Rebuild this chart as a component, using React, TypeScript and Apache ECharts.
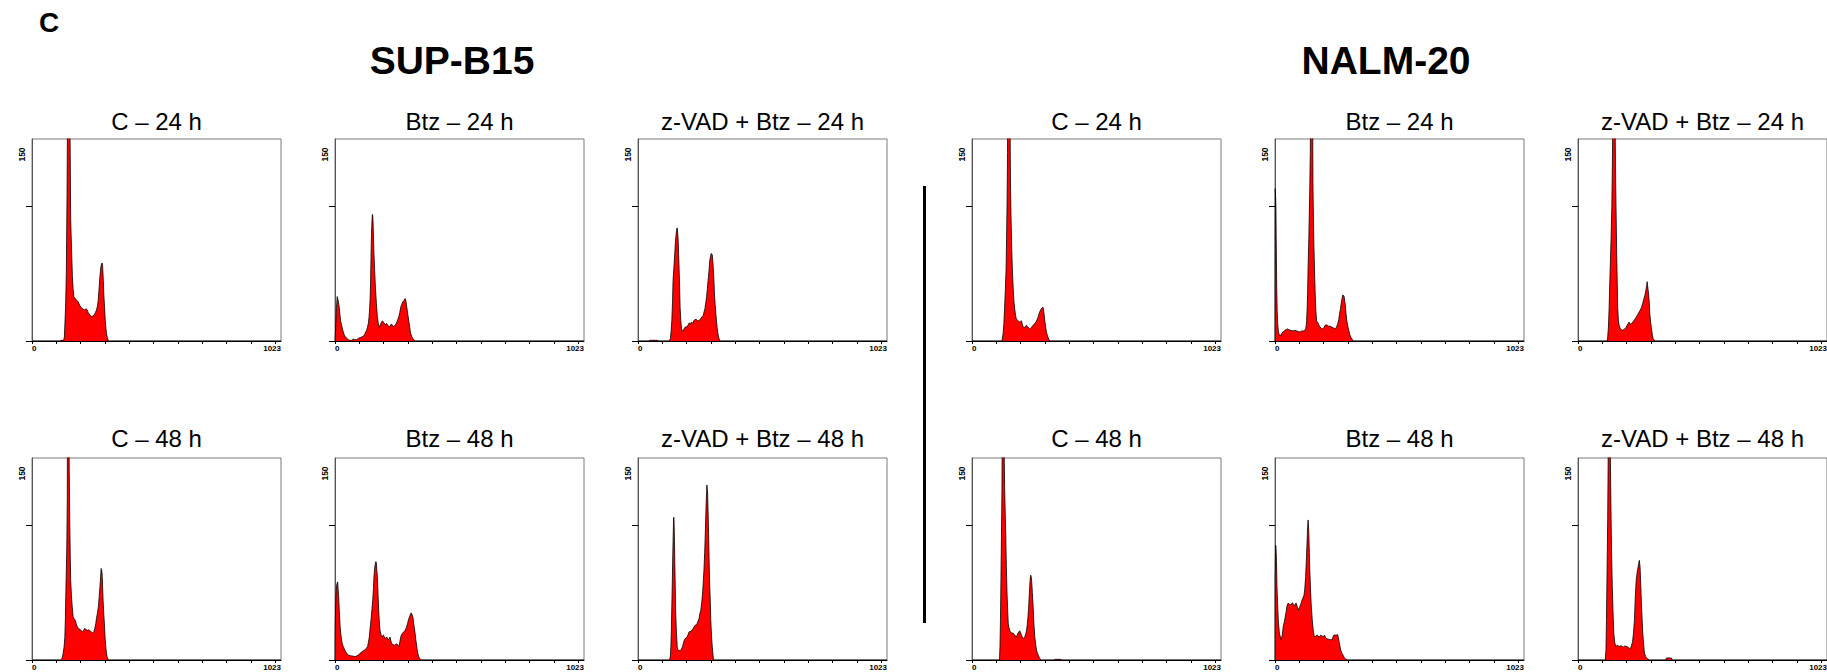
import { useEffect, useRef } from "react";
import * as echarts from "echarts";

// ---------- texts ----------
const panelLetter = "C";
const groupTitles = ["SUP-B15", "NALM-20"];
const panelTitles = [
  "C – 24 h", "Btz – 24 h", "z-VAD + Btz – 24 h",
  "C – 24 h", "Btz – 24 h", "z-VAD + Btz – 24 h",
  "C – 48 h", "Btz – 48 h", "z-VAD + Btz – 48 h",
  "C – 48 h", "Btz – 48 h", "z-VAD + Btz – 48 h",
];
const yMaxLabel = "150";
const X_MAX = 1023;
const Y_MAX = 150;
const xTickValues = [0, 100, 200, 300, 400, 500, 600, 700, 800, 900, 1000];
const xLabelValues = [0, 1023];
const yTickValues = [0, 100];

// ---------- histogram data: [channel, count] ----------
const supC24: number[][] = [[0,0],[115,0],[118,0.5],[130,0.5],[133,3],[138,25],[141,50],[144,110],[147,200],[153,210],[157,140],[159,90],[163,65],[166,48],[169,38],[172,33],[176,32],[180,31],[185,30],[190,29],[196,26.5],[202,25],[207,24],[212,23.5],[217,23],[222,24],[227,23],[231,21],[235,20],[240,19],[244,18],[249,18.5],[254,19],[260,21],[265,23],[269,26],[272,30],[276,40],[279,48],[283,55],[286,57.5],[288,58],[290,56],[293,45],[295,35],[298,25],[301,15],[304,9],[306,5.5],[310,2],[314,0],[1023,0]];
const supBtz24: number[][] = [[0,0],[2,8],[3,12],[6,25],[9,33],[11,33],[13,30],[16,27],[20,20],[23,15],[28,11],[32,8],[37,5],[41,3.5],[48,2],[55,1],[62,0.5],[69,0.5],[75,1.5],[82,1],[89,1],[96,2],[103,2.5],[110,3],[117,3.5],[122,5],[126,6.7],[130,8],[133,10],[137,13],[140,18],[142,23],[144,30],[146,42],[147,53],[148,62],[149,72],[151,85],[153,93],[154,94],[155,93],[156,90],[158,78],[160,65],[163,52],[166,40],[170,28],[174,18],[178,13],[182,10],[186,12],[191,14],[195,15],[199,14],[203,13],[207,12],[211,13],[215,12.4],[219,11],[224,10.4],[228,12],[233,12.4],[238,11],[243,10.9],[248,12],[254,14],[258,16],[262,18],[266,21],[270,25],[274,27],[278,29],[283,30],[288,31.5],[291,30],[295,25],[299,20],[303,15],[307,10],[311,5.5],[316,3],[320,1.7],[325,0.8],[329,0],[1023,0]];
const supZvad24: number[][] = [[0,0],[45,0],[48,0.5],[82,0.5],[85,0],[128,0],[133,1.7],[136,7],[139,15],[142,30],[144,45],[148,56],[151,65],[154,74],[157,80],[159,83],[161,84],[163,80],[165,75],[167,64],[169,53],[171,40],[173,25],[176,15],[179,9],[182,7.5],[185,7.5],[189,9],[192,10],[197,10.5],[202,10.4],[206,12],[210,13.4],[215,13],[220,14],[225,13],[229,15],[234,16],[240,16],[245,15],[250,15],[254,16],[258,16.6],[263,18],[268,19],[272,22],[275,24],[279,29],[282,33],[285,39],[288,45],[292,53],[295,60],[298,63],[301,65],[303,65],[305,64],[307,60],[309,55],[312,45],[314,35],[317,27],[320,20],[323,14],[325,10],[328,6],[331,3],[336,0],[1023,0]];
const nalmC24: number[][] = [[0,0],[123,0],[128,5.5],[131,13],[134,25],[137,38],[140,53],[142,75],[144,102],[146,140],[147,200],[155,200],[158,120],[160,95],[163,70],[166,52],[169,40],[172,30],[176,23],[179,19],[182,16.6],[186,15.5],[189,15],[193,14.5],[196,14],[199,14.5],[203,15],[206,13],[210,10.4],[214,10],[217,10],[220,11],[224,11.7],[227,10.5],[230,10.4],[234,9.5],[237,9],[241,9.5],[244,10],[248,11],[251,11.7],[255,12.5],[258,13],[262,14],[265,15],[269,16.5],[272,18],[275,20],[278,21.6],[282,23],[285,24],[288,24.5],[292,25],[294,23],[296,20],[299,15],[303,10],[306,6.5],[310,4],[315,1.5],[320,0],[1023,0]];
const nalmBtz24: number[][] = [[0,0],[0.5,80],[1,113],[3,105],[4,97],[5,75],[7,40],[9,22],[11,13],[14,7],[18,4],[21,4.5],[25,4],[28,5.5],[32,6.7],[36,7],[41,8],[46,8.5],[51,9],[56,8.5],[62,8],[68,7.8],[75,7.5],[82,8],[89,7.5],[96,7],[103,6.7],[110,7.5],[117,7.5],[122,8],[126,9],[128,11],[130,15],[132,24],[134,35],[136,55],[139,77],[141,95],[143,115],[145,140],[147,200],[154,200],[156,115],[158,90],[160,70],[163,48],[166,30],[168,22],[171,15],[174,14],[178,13],[181,11.5],[185,10.4],[190,9.5],[196,9],[201,10],[206,11.7],[210,12],[215,11.7],[220,11],[226,11],[231,10.5],[237,10],[242,9.5],[248,9],[253,10.5],[258,13],[262,16],[265,20],[269,24],[272,28],[275,31],[278,34],[281,34],[284,33],[287,29],[289,26.5],[292,20],[295,15],[299,11],[303,8],[307,5],[311,3],[316,1.5],[322,0],[1023,0]];
const nalmZvad24: number[][] = [[0,0],[121,0],[125,10.4],[128,25],[130,40],[133,58],[136,77],[139,100],[141,127],[143,160],[146,200],[151,200],[153,150],[155,115],[157,90],[159,65],[161,45],[163,25],[166,15],[169,11.7],[172,10],[174,9],[178,8.5],[183,8],[187,8.5],[192,9],[197,10],[202,11.7],[206,13],[210,14],[215,12.4],[220,13],[225,14],[229,15],[235,16.5],[240,18],[245,19.5],[251,21.6],[256,23],[261,25],[266,28],[271,31.5],[275,34],[279,37.7],[282,41],[284,44],[286,41],[288,38],[290,35],[293,28],[295,20],[299,13],[302,9],[306,4],[309,1.7],[316,0],[1023,0]];
const supC48: number[][] = [[0,0],[118,0],[121,0.5],[125,2],[128,5],[132,10],[135,17],[137,30],[139,49],[141,66],[143,84],[145,120],[146,200],[151,200],[153,140],[155,104],[157,80],[159,59],[162,48],[165,40],[169,32],[172,31],[176,30],[180,28],[183,26],[187,24.5],[190,23.5],[193,23],[196,23],[200,22],[204,21.5],[207,21],[212,22],[217,23.5],[222,22.5],[227,22],[232,22.5],[238,21.7],[243,21],[249,20],[254,21],[258,23.5],[262,27],[265,31],[269,35],[273,40],[276,47],[279,54],[282,62],[284,68],[286,67],[288,64],[290,55],[292,44.5],[295,34],[298,25],[300,17],[303,10],[306,5],[309,2],[314,0],[1023,0]];
const supBtz48: number[][] = [[0,0],[0.5,20],[2,35],[4,49],[7,56],[11,58],[13,52],[15,47],[18,35],[21,25],[24,19],[27,15],[30,12],[34,10],[39,8],[44,6],[50,4.5],[55,3.7],[62,3.2],[69,3],[76,2.8],[82,2.5],[89,3],[96,3.7],[103,5],[110,6],[117,7],[123,7.4],[128,8.5],[134,10],[137,13],[141,17],[144,23],[148,30],[152,38],[155,44.5],[158,53],[160,62],[163,68],[166,72],[168,73],[170,72],[172,66],[174,62],[177,48],[180,35],[183,26],[185,22],[189,19],[192,17],[196,18],[199,18.5],[203,17],[206,16],[210,16.5],[213,17],[216,16],[219,15],[223,16],[226,17],[230,14],[233,12],[238,11.5],[243,11],[249,11.5],[254,12],[258,11],[262,10],[266,13],[270,17],[274,19],[278,20],[283,21],[288,22],[293,24],[298,27],[302,30],[306,32],[310,34],[313,35],[316,34],[320,32],[322,29],[325,25],[329,20],[332,15],[336,10],[339,6],[343,3],[347,1.2],[352,0.5],[357,0],[1023,0]];
const supZvad48: number[][] = [[0,0],[130,0],[133,3],[135,10],[137,22],[139,40],[141,58],[143,79],[145,95],[146,104],[147,106],[148,104],[150,88],[151,74],[153,55],[155,35],[158,20],[161,10],[163,8],[166,7.4],[170,7],[174,7],[178,8],[183,10],[186,12],[188,13.6],[191,15],[194,16],[198,16.5],[202,17],[206,19],[210,21],[214,21],[218,21.5],[223,22.5],[227,23.5],[232,25],[236,26],[240,26.5],[243,27],[247,29],[251,31],[255,35],[258,37],[262,43],[265,49],[268,57],[271,67],[274,80],[276,91],[278,104],[280,116],[282,125],[283,130],[284,128],[286,124],[288,110],[290,94],[292,76],[294,59],[297,44],[299,30],[302,18],[305,10],[308,4],[310,0],[1023,0]];
const nalmC48: number[][] = [[0,0],[113,0],[115,10],[117,30],[119,60],[121,91],[123,125],[125,200],[130,200],[132,160],[134,128],[137,105],[139,91],[141,70],[144,49],[147,35],[149,27],[152,24],[155,22],[158,21],[162,20],[166,20],[169,20],[173,19],[176,18.5],[179,18],[182,17],[186,18.5],[189,20],[193,21],[196,21.7],[200,20],[203,18.5],[207,17],[210,16],[214,16.5],[217,17],[221,19.5],[224,22],[227,26],[230,32],[233,40],[237,54],[239,60],[241,63],[243,62],[245,59],[248,50],[251,40],[254,28],[258,17],[262,11],[265,7.4],[268,5.5],[272,3.7],[278,1.2],[285,0],[338,0],[340,0.5],[366,0.5],[368,0],[1023,0]];
const nalmBtz48: number[][] = [[0,0],[0.5,60],[2,80],[3,85],[5,80],[6,74],[8,55],[11,40],[14,28],[18,20],[22,17],[26,15],[30,19],[34,25],[38,28],[42,32],[46,36],[49,40],[53,42],[57,42],[61,41],[65,41],[69,42],[72,42.5],[76,41],[80,40],[84,42],[88,42],[92,39],[96,37],[100,39],[103,40],[107,42],[111,44.5],[115,46],[119,48],[122,52],[126,62],[129,75],[131,84],[134,98],[136,104],[138,98],[139,94],[141,80],[143,67],[146,52],[149,40],[153,30],[157,22],[161,18],[165,17],[169,18],[173,18.5],[177,18],[180,17],[184,17.5],[188,18.5],[192,18],[196,17.5],[200,17.5],[203,18.5],[207,17],[211,16],[218,15.5],[226,15],[234,15],[238,17],[242,18.5],[248,18.5],[254,18.5],[257,19],[260,17],[264,13],[267,10],[270,7.5],[275,5],[280,3.5],[284,2],[288,1],[292,0.5],[296,0],[1023,0]];
const nalmZvad48: number[][] = [[0,0],[112,0],[115,8],[117,30],[119,60],[122,104],[124,150],[125,200],[131,200],[133,150],[136,104],[138,80],[141,54],[144,35],[147,20],[151,13],[155,10],[158,10.5],[162,11],[166,10.5],[170,10],[174,10.5],[178,10.5],[182,10],[185,9.5],[189,10],[193,10.5],[197,10],[201,10],[205,9.5],[209,9],[213,8.6],[216,8.6],[220,11],[224,13.6],[228,20],[232,30],[235,45],[239,59],[243,65],[247,69],[250,72],[252,74],[255,69],[258,55],[260,44.5],[263,32],[266,20],[270,11],[273,5],[278,2.5],[283,1.2],[294,0],[361,0],[363,1.5],[384,1.5],[386,0],[1023,0]];

const histograms = [
  supC24, supBtz24, supZvad24, nalmC24, nalmBtz24, nalmZvad24,
  supC48, supBtz48, supZvad48, nalmC48, nalmBtz48, nalmZvad48,
];

// ---------- layout ----------
const FONT = '"Liberation Sans", Arial, Helvetica, sans-serif';
const colLefts = [32, 335, 638, 972, 1275, 1578];
const rowTops = [139, 458];
const PW = 249;
const PH = 202;

export default function App() {
  const ref = useRef<HTMLDivElement>(null);

  useEffect(() => {
    if (!ref.current) return;
    const chart = echarts.init(ref.current, undefined, { renderer: "svg" });

    const grids: any[] = [];
    const xAxes: any[] = [];
    const yAxes: any[] = [];
    const series: any[] = [];
    const graphics: any[] = [];

    histograms.forEach((data, i) => {
      const row = Math.floor(i / 6);
      const col = i % 6;
      const left = colLefts[col];
      const top = rowTops[row];
      grids.push({
        left, top, width: PW, height: PH,
        show: true, borderColor: "#7a7a7a", borderWidth: 1,
        backgroundColor: "#fff", containLabel: false, outerBoundsMode: "none",
      });
      xAxes.push({
        gridIndex: i, type: "value", min: 0, max: X_MAX,
        axisLine: { show: true, onZero: false, lineStyle: { color: "#000", width: 1 } },
        axisTick: { show: true, customValues: xTickValues, length: 3, lineStyle: { color: "#000", width: 1 } },
        axisLabel: {
          show: true, customValues: xLabelValues, fontSize: 8, fontWeight: "bold",
          color: "#000", margin: 3, fontFamily: FONT,
          alignMinLabel: "left", alignMaxLabel: "right",
          formatter: (v: number) => String(Math.round(v)),
        },
        splitLine: { show: false },
      });
      yAxes.push({
        gridIndex: i, type: "value", min: 0, max: Y_MAX,
        axisLine: { show: true, onZero: false, lineStyle: { color: "#555", width: 1 } },
        axisTick: { show: true, customValues: yTickValues, length: 6, lineStyle: { color: "#000", width: 1 } },
        axisLabel: { show: false },
        splitLine: { show: false },
      });
      series.push({
        type: "line", xAxisIndex: i, yAxisIndex: i, data,
        showSymbol: false, symbol: "none", smooth: false, clip: true, silent: true,
        lineStyle: { color: "#000", width: 0.8 },
        areaStyle: { color: "#ff0000", opacity: 1 },
      });
      graphics.push({
        type: "text", x: left + PW / 2, y: row === 0 ? 121 : 438,
        style: { text: panelTitles[i], fontSize: 24, fontFamily: FONT, fill: "#000", align: "center", verticalAlign: "middle" },
      });
      graphics.push({
        type: "text", x: left - 10.5, y: top + 15.5, rotation: Math.PI / 2,
        style: { text: yMaxLabel, fontSize: 8.5, fontWeight: "bold", fontFamily: FONT, fill: "#000", align: "center", verticalAlign: "middle" },
      });
    });

    graphics.push({
      type: "text", x: 39, y: 22,
      style: { text: panelLetter, fontSize: 28, fontWeight: "bold", fontFamily: FONT, fill: "#000", align: "left", verticalAlign: "middle" },
    });
    graphics.push({
      type: "text", x: 452, y: 60,
      style: { text: groupTitles[0], fontSize: 39, fontWeight: "bold", fontFamily: FONT, fill: "#000", align: "center", verticalAlign: "middle" },
    });
    graphics.push({
      type: "text", x: 1386, y: 60,
      style: { text: groupTitles[1], fontSize: 39, fontWeight: "bold", fontFamily: FONT, fill: "#000", align: "center", verticalAlign: "middle" },
    });
    graphics.push({
      type: "line", shape: { x1: 924.5, y1: 186, x2: 924.5, y2: 623 },
      style: { stroke: "#000", lineWidth: 3 },
    });

    chart.setOption({
      animation: false,
      backgroundColor: "#fff",
      grid: grids,
      xAxis: xAxes,
      yAxis: yAxes,
      series,
      graphic: graphics,
    });

    return () => chart.dispose();
  }, []);

  return (
    <div
      ref={ref}
      style={{ position: "absolute", left: 0, top: 0, width: 1827, height: 672, background: "#fff" }}
    />
  );
}
